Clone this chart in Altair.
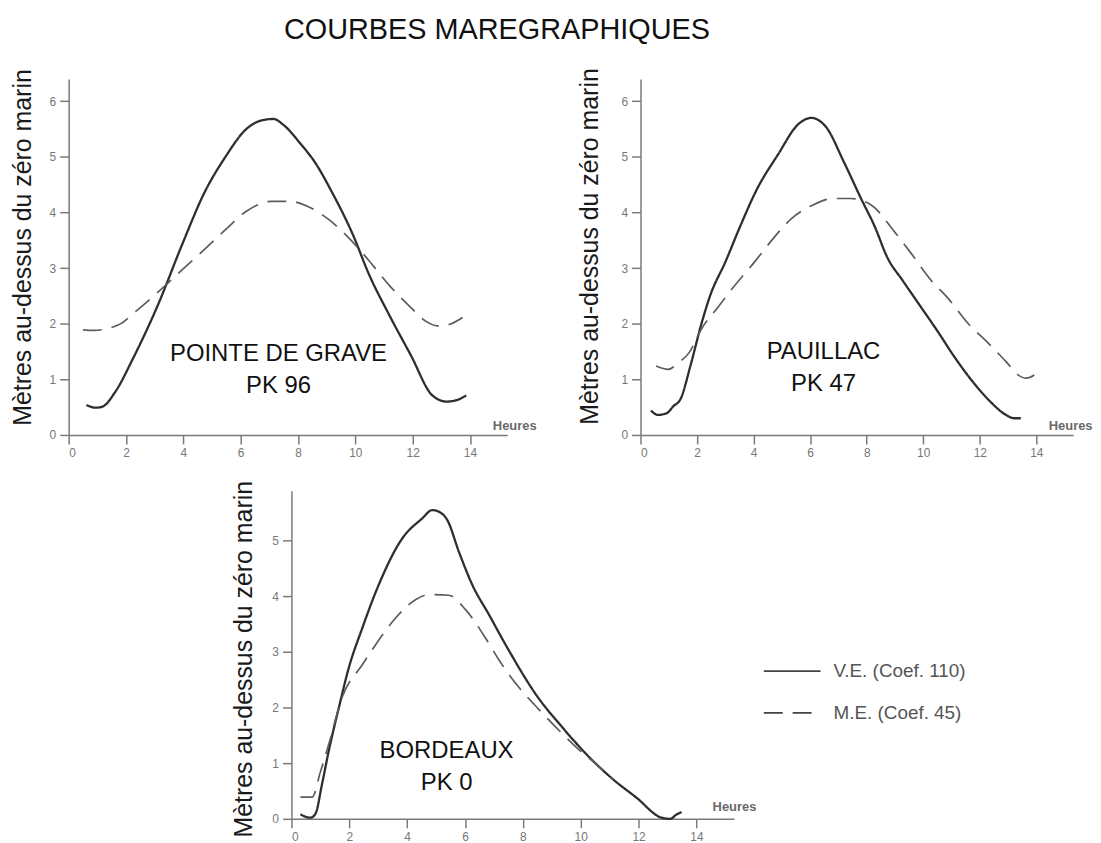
import altair as alt
import pandas as pd

SERIES = ["V.E. (Coef. 110)", "M.E. (Coef. 45)"]
STATIONS = ["POINTE DE GRAVE", "PAUILLAC", "BORDEAUX"]
PKS = ["PK 96", "PK 47", "PK 0"]
X_TICKS = [0, 2, 4, 6, 8, 10, 12, 14]

# Pointe de Grave (PK 96)
PG_h_ve = [0.62, 0.93, 1.18, 1.62, 2.24, 3.1, 3.98, 4.73, 5.47, 6.2, 6.7, 7.15, 7.5, 8.08, 8.58,
           9.2, 9.89, 10.5, 11.2, 11.94, 12.69, 13.18, 13.56, 13.87]
PG_ve = [0.54, 0.49, 0.51, 0.77, 1.37, 2.32, 3.45, 4.35, 5.0, 5.5, 5.65, 5.68, 5.57, 5.24, 4.91,
         4.35, 3.63, 2.86, 2.14, 1.43, 0.71, 0.6, 0.63, 0.71]
PG_h_me = [0.5, 0.87, 1.74, 2.36, 3.23, 3.98, 4.73, 5.47, 6.2, 7.09, 7.71, 8.33, 9.08, 9.83, 10.45,
           11.2, 11.94, 12.44, 12.87, 13.3, 13.74]
PG_me = [1.89, 1.88, 1.98, 2.23, 2.62, 2.98, 3.33, 3.69, 4.02, 4.2, 4.2, 4.11, 3.87, 3.51, 3.15,
         2.68, 2.29, 2.05, 1.96, 1.99, 2.11]

# Pauillac (PK 47)
PA_h_ve = [0.37, 0.61, 0.92, 1.17, 1.41, 1.78, 2.15, 2.46, 3.01, 3.5, 4.12, 4.85, 5.59, 6.04, 6.57,
           7.19, 7.8, 8.29, 8.72, 9.28, 9.89, 10.5, 11.12, 11.73, 12.35, 12.96, 13.21, 13.45]
PA_ve = [0.44, 0.36, 0.39, 0.52, 0.64, 1.27, 1.99, 2.5, 3.12, 3.72, 4.42, 5.03, 5.59, 5.7, 5.53,
         4.91, 4.25, 3.74, 3.2, 2.77, 2.32, 1.87, 1.39, 0.97, 0.61, 0.35, 0.3, 0.3]
PA_h_me = [0.55, 0.98, 1.35, 1.72, 2.15, 2.76, 3.26, 4.05, 4.61, 5.34, 6.08, 6.82, 7.43, 8.17, 8.97,
           9.52, 10.26, 10.87, 11.61, 12.22, 12.96, 13.35, 13.64, 14.0]
PA_me = [1.24, 1.18, 1.3, 1.48, 1.9, 2.31, 2.64, 3.12, 3.48, 3.89, 4.13, 4.25, 4.25, 4.13, 3.66,
         3.3, 2.79, 2.46, 1.99, 1.69, 1.3, 1.08, 1.02, 1.1]

# Bordeaux (PK 0)
BX_h_ve = [0.31, 0.66, 0.83, 1.06, 1.29, 1.64, 1.98, 2.45, 3.02, 3.83, 4.52, 4.87, 5.1, 5.39, 5.79,
           6.25, 6.83, 7.47, 8.46, 9.39, 10.2, 11.12, 11.93, 12.8, 13.09, 13.32, 13.49]
BX_ve = [0.08, 0.02, 0.09, 0.63, 1.22, 2.0, 2.71, 3.43, 4.21, 5.04, 5.4, 5.55, 5.52, 5.37, 4.8,
         4.21, 3.67, 3.07, 2.23, 1.63, 1.16, 0.71, 0.38, 0.02, 0.0, 0.08, 0.12]
BX_h_me = [0.31, 0.72, 1.0, 1.29, 1.75, 2.45, 2.91, 3.6, 4.29, 4.75, 5.44, 6.02, 6.71, 7.17, 7.87,
           8.46, 9.29, 9.86, 10.5, 11.12]
BX_me = [0.39, 0.39, 0.84, 1.34, 2.18, 2.77, 3.13, 3.61, 3.94, 4.03, 4.02, 3.76, 3.25, 2.86, 2.36,
         2.02, 1.57, 1.28, 1.0, 0.71]

FONT = "Liberation Sans"


def make_df(h_ve, v_ve, h_me, v_me):
    a = pd.DataFrame({"h": h_ve, "m": v_ve, "s": SERIES[0]})
    b = pd.DataFrame({"h": h_me, "m": v_me, "s": SERIES[1]})
    return pd.concat([a, b], ignore_index=True)


def panel(df, name, pk, width, height, ymax, yticks, ytitle_x, ytitle_y,
          heures_x, heures_y, lab_x, lab_y, legend):
    x = alt.X("h:Q", scale=alt.Scale(domain=[0, 15.3], nice=False, zero=False),
              axis=alt.Axis(values=X_TICKS, title="Heures", titleX=heures_x, titleY=heures_y,
                            titleAlign="left", titleBaseline="middle", titleFontSize=13,
                            titleFontWeight="bold", titleColor="#6a6a6a"))
    y = alt.Y("m:Q", scale=alt.Scale(domain=[0, ymax], nice=False, zero=False),
              axis=alt.Axis(values=yticks, title="Mètres au-dessus du zéro marin",
                            titleX=ytitle_x, titleY=ytitle_y, titleAngle=270,
                            titleAlign="center", titleBaseline="middle",
                            titleFontSize=25, titleColor="#1a1a1a", titleFontWeight="normal"))
    if legend:
        leg = alt.Legend(orient="none", legendX=474, legendY=152, title=None,
                         symbolType="stroke", symbolSize=3249, symbolStrokeWidth=1.6,
                         symbolStrokeColor="#444444", labelFontSize=19, labelColor="#555555",
                         labelFont=FONT, labelOffset=12, rowPadding=2, padding=0)
    else:
        leg = None
    lines = alt.Chart(df).mark_line(interpolate="monotone").encode(
        x=x, y=y,
        strokeDash=alt.StrokeDash("s:N", scale=alt.Scale(domain=SERIES, range=[[1, 0], [19, 10]]),
                                  legend=leg),
        color=alt.Color("s:N", scale=alt.Scale(domain=SERIES, range=["#2e2e2e", "#5c5c5c"]),
                        legend=None),
        strokeWidth=alt.StrokeWidth("s:N", scale=alt.Scale(domain=SERIES, range=[2.3, 1.7]),
                                    legend=None),
    )
    label = alt.Chart(pd.DataFrame({"k": [0]})).mark_text(
        font=FONT, fontSize=24, lineHeight=32, align="center", baseline="middle", color="#111111"
    ).encode(x=alt.value(lab_x), y=alt.value(lab_y), text=alt.value([name, pk]))
    return alt.layer(lines, label).properties(width=width, height=height)


tl = panel(make_df(PG_h_ve, PG_ve, PG_h_me, PG_me), STATIONS[0], PKS[0], 441, 358, 6.4,
           [0, 1, 2, 3, 4, 5, 6], -46, 169, 426, -9, 211, 277, False)
tr = panel(make_df(PA_h_ve, PA_ve, PA_h_me, PA_me), STATIONS[1], PKS[1], 435, 358, 6.4,
           [0, 1, 2, 3, 4, 5, 6], -51, 168, 410, -9, 184, 275, False)
bot = panel(make_df(BX_h_ve, BX_ve, BX_h_me, BX_me), STATIONS[2], PKS[2], 445, 330, 5.9,
            [0, 1, 2, 3, 4, 5], -48, 169, 423, -12, 156, 262, True)

spacer = alt.Chart(pd.DataFrame({"k": [0]})).mark_point(opacity=0).encode(
    x=alt.value(0), y=alt.value(0)).properties(width=1, height=1)

row1 = alt.hconcat(tl, tr, spacing=134, bounds="flush")
row2 = alt.hconcat(spacer, bot, spacing=223, bounds="flush").resolve_legend(strokeDash="independent")

chart = alt.vconcat(row1, row2, spacing=20).resolve_legend(
    strokeDash="independent"
).properties(
    title=alt.TitleParams("COURBES MAREGRAPHIQUES", anchor="start", frame="bounds", dx=275,
                          fontSize=29, font=FONT, fontWeight="normal", color="#111111", offset=22),
    padding={"left": 2, "top": 6, "right": 0, "bottom": 0},
).configure_view(
    stroke="transparent"
).configure_axis(
    grid=False, domainColor="#7a7a7a", domainWidth=1.5, tickColor="#7a7a7a", tickWidth=1.5,
    tickSize=9, labelColor="#777777", labelFontSize=12, labelFont=FONT, labelPadding=4,
    titleFont=FONT
)

chart.save("out.html", embed_options={"renderer": "svg", "actions": False})
